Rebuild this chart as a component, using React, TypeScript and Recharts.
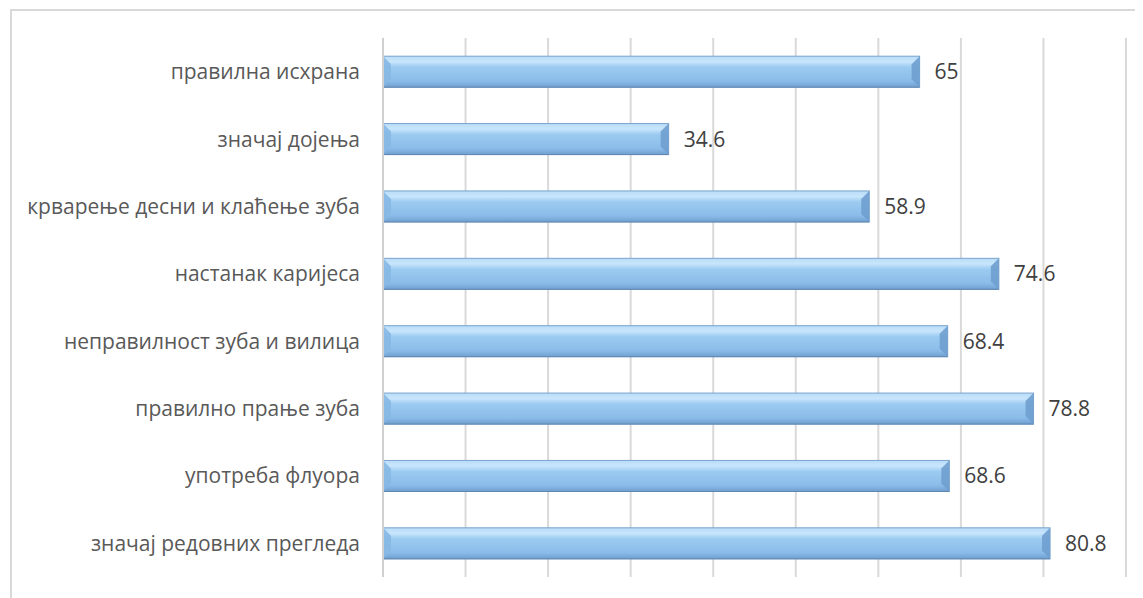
import { BarChart, Bar, XAxis, YAxis, CartesianGrid, LabelList } from 'recharts';

const categories = [
  'правилна исхрана',
  'значај дојења',
  'крварење десни и клаћење зуба',
  'настанак каријеса',
  'неправилност зуба и вилица',
  'правилно прање зуба',
  'употреба флуора',
  'значај редовних прегледа',
];
const values = [65, 34.6, 58.9, 74.6, 68.4, 78.8, 68.6, 80.8];
const xTicks = [0, 10, 20, 30, 40, 50, 60, 70, 80, 90];

const data = categories.map((name, i) => ({ name, value: values[i] }));

// bevelled glossy bar like the Excel style
function BevelBar(props: any) {
  const { x, y, width, height } = props;
  if (!width || width <= 0) return null;
  const b = Math.min(8, width / 2);
  return (
    <g>
      <rect x={x} y={y} width={width} height={height} fill="url(#barGrad)" stroke="#7aa3cc" strokeWidth={1} />
      <polygon
        points={`${x},${y} ${x + b},${y + b} ${x + b},${y + height - b} ${x},${y + height}`}
        fill="#86b8e4"
        opacity={0.9}
      />
      <polygon
        points={`${x + width},${y} ${x + width - b},${y + b} ${x + width - b},${y + height - b} ${x + width},${y + height}`}
        fill="#6f9fcf"
        opacity={0.9}
      />
      <line x1={x} y1={y + height} x2={x + width} y2={y + height} stroke="#5f87b0" strokeWidth={1} />
    </g>
  );
}

export default function App() {
  return (
    <div style={{ position: 'relative', width: 1135, height: 590, overflow: 'hidden', background: '#fff' }}>
      <div
        style={{
          position: 'absolute',
          left: 2,
          top: 1,
          width: 1160,
          height: 620,
          border: '2px solid #d9d9d9',
        }}
      />
      <BarChart
        width={1135}
        height={590}
        data={data}
        layout="vertical"
        margin={{ top: 30, right: 17, bottom: 21, left: 0 }}
        barCategoryGap="27%"
        style={{ position: 'absolute', left: 0, top: 0 }}
      >
        <defs>
          <linearGradient id="barGrad" x1="0" y1="0" x2="0" y2="1">
            <stop offset="0%" stopColor="#b9dcf8" />
            <stop offset="18%" stopColor="#c8e6fc" />
            <stop offset="35%" stopColor="#9ccbf1" />
            <stop offset="80%" stopColor="#8bbce9" />
            <stop offset="100%" stopColor="#6f9fd0" />
          </linearGradient>
        </defs>
        <CartesianGrid horizontal={false} stroke="#d9d9d9" strokeWidth={2} />
        <XAxis type="number" domain={[0, 90]} ticks={xTicks} hide />
        <YAxis
          type="category"
          dataKey="name"
          width={375}
          axisLine={{ stroke: '#d0d0d0', strokeWidth: 2 }}
          tickLine={false}
          tickMargin={17}
          tick={{ fill: '#595959', fontSize: 21, fontFamily: 'Open Sans' }}
          interval={0}
        />
        <Bar dataKey="value" shape={<BevelBar />} isAnimationActive={false}>
          <LabelList
            dataKey="value"
            position="right"
            offset={15}
            style={{ fill: '#404040', fontSize: 21, fontFamily: 'Open Sans' }}
          />
        </Bar>
      </BarChart>
    </div>
  );
}
